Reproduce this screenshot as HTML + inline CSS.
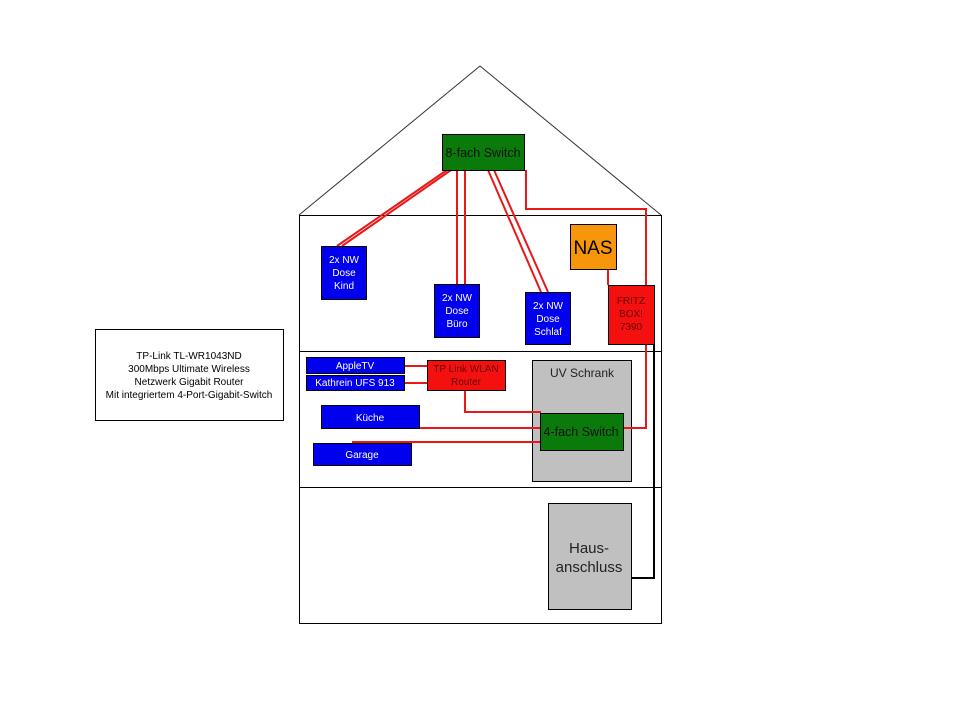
<!DOCTYPE html>
<html><head><meta charset="utf-8"><style>
body{margin:0;background:#fff}
svg{display:block}
text{font-family:"Liberation Sans",sans-serif;}
</style></head><body>
<svg width="960" height="720" viewBox="0 0 960 720" xmlns="http://www.w3.org/2000/svg">
<rect width="960" height="720" fill="#fff"/>
<!-- roof -->
<polyline points="299,215 480,66 661,215" fill="none" stroke="#333" stroke-width="1"/>
<rect x="299.5" y="215.5" width="362" height="408" fill="none" stroke="#000"/>
<line x1="299" y1="351.5" x2="661" y2="351.5" stroke="#000"/>
<line x1="299" y1="487.5" x2="661" y2="487.5" stroke="#000"/>
<rect x="532.5" y="360.5" width="99" height="121" fill="#c0c0c0" stroke="#000"/>

<!-- red lines -->
<g stroke="#e81818" stroke-width="2" fill="none">
<line x1="447" y1="170" x2="337" y2="246"/>
<line x1="451" y1="170" x2="342" y2="246"/>
<line x1="457" y1="170" x2="457" y2="285"/>
<line x1="465" y1="170" x2="465" y2="285"/>
<line x1="488" y1="170" x2="541" y2="292"/>
<line x1="494" y1="170" x2="548" y2="292"/>
<polyline points="526,170 526,209 646,209 646,285"/>
<line x1="608" y1="269" x2="608" y2="285"/>
<polyline points="646,344 646,428 623,428"/>
<line x1="404" y1="366" x2="427" y2="366"/>
<line x1="404" y1="383" x2="427" y2="383"/>
<polyline points="465,390 465,412 541,412"/>
<line x1="419" y1="428" x2="541" y2="428"/>
<line x1="352" y1="442" x2="541" y2="442"/>
</g>
<polyline points="654,344 654,578 632,578" fill="none" stroke="#000" stroke-width="2"/>

<!-- boxes -->
<g stroke="#000" stroke-width="1">
<rect x="442.5" y="134.5" width="82" height="36" fill="#0a7a0a"/>
<rect x="321.5" y="246.5" width="45" height="53" fill="#0000ee"/>
<rect x="434.5" y="284.5" width="45" height="53" fill="#0000ee"/>
<rect x="525.5" y="292.5" width="45" height="52" fill="#0000ee"/>
<rect x="570.5" y="224.5" width="46" height="45" fill="#f7960a"/>
<rect x="608.5" y="285.5" width="46" height="59" fill="#f51010"/>
<rect x="306.5" y="357.5" width="98" height="16" fill="#0000ee"/>
<rect x="306.5" y="375.5" width="98" height="15" fill="#0000ee"/>
<rect x="427.5" y="360.5" width="78" height="30" fill="#f51010"/>
<rect x="540.5" y="413.5" width="83" height="37" fill="#0a7a0a"/>
<rect x="321.5" y="405.5" width="98" height="23" fill="#0000ee"/>
<rect x="313.5" y="443.5" width="98" height="22" fill="#0000ee"/>
<rect x="548.5" y="503.5" width="83" height="106" fill="#c0c0c0"/>
<rect x="95.5" y="329.5" width="188" height="91" fill="#fff"/>
</g>

<g text-anchor="middle" font-size="10">
<text x="483" y="157" font-size="12.5" fill="#111">8-fach Switch</text>
<g fill="#fff">
<text x="344" y="263">2x NW</text><text x="344" y="276">Dose</text><text x="344" y="289">Kind</text>
<text x="457" y="301">2x NW</text><text x="457" y="314">Dose</text><text x="457" y="327">Büro</text>
<text x="548" y="309">2x NW</text><text x="548" y="322">Dose</text><text x="548" y="335">Schlaf</text>
<text x="355" y="369">AppleTV</text>
<text x="355" y="386">Kathrein UFS 913</text>
<text x="370" y="421">Küche</text>
<text x="362" y="458">Garage</text>
</g>
<text x="593" y="254" font-size="19" fill="#000">NAS</text>
<g fill="#600"><text x="631" y="304">FRITZ</text><text x="631" y="317">BOX!</text><text x="631" y="330">7390</text></g>
<g fill="#600"><text x="466" y="372">TP Link WLAN</text><text x="466" y="385">Router</text></g>
<text x="582" y="377" font-size="12" fill="#222">UV Schrank</text>
<text x="581" y="436" font-size="12.5" fill="#111">4-fach Switch</text>
<text x="589" y="553" font-size="15" fill="#222">Haus-</text>
<text x="589" y="572" font-size="15" fill="#222">anschluss</text>
<g fill="#000"><text x="189" y="359">TP-Link TL-WR1043ND</text><text x="189" y="372">300Mbps Ultimate Wireless</text><text x="189" y="385">Netzwerk Gigabit Router</text><text x="189" y="398">Mit integriertem 4-Port-Gigabit-Switch</text></g>
</g>
</svg>
</body></html>
